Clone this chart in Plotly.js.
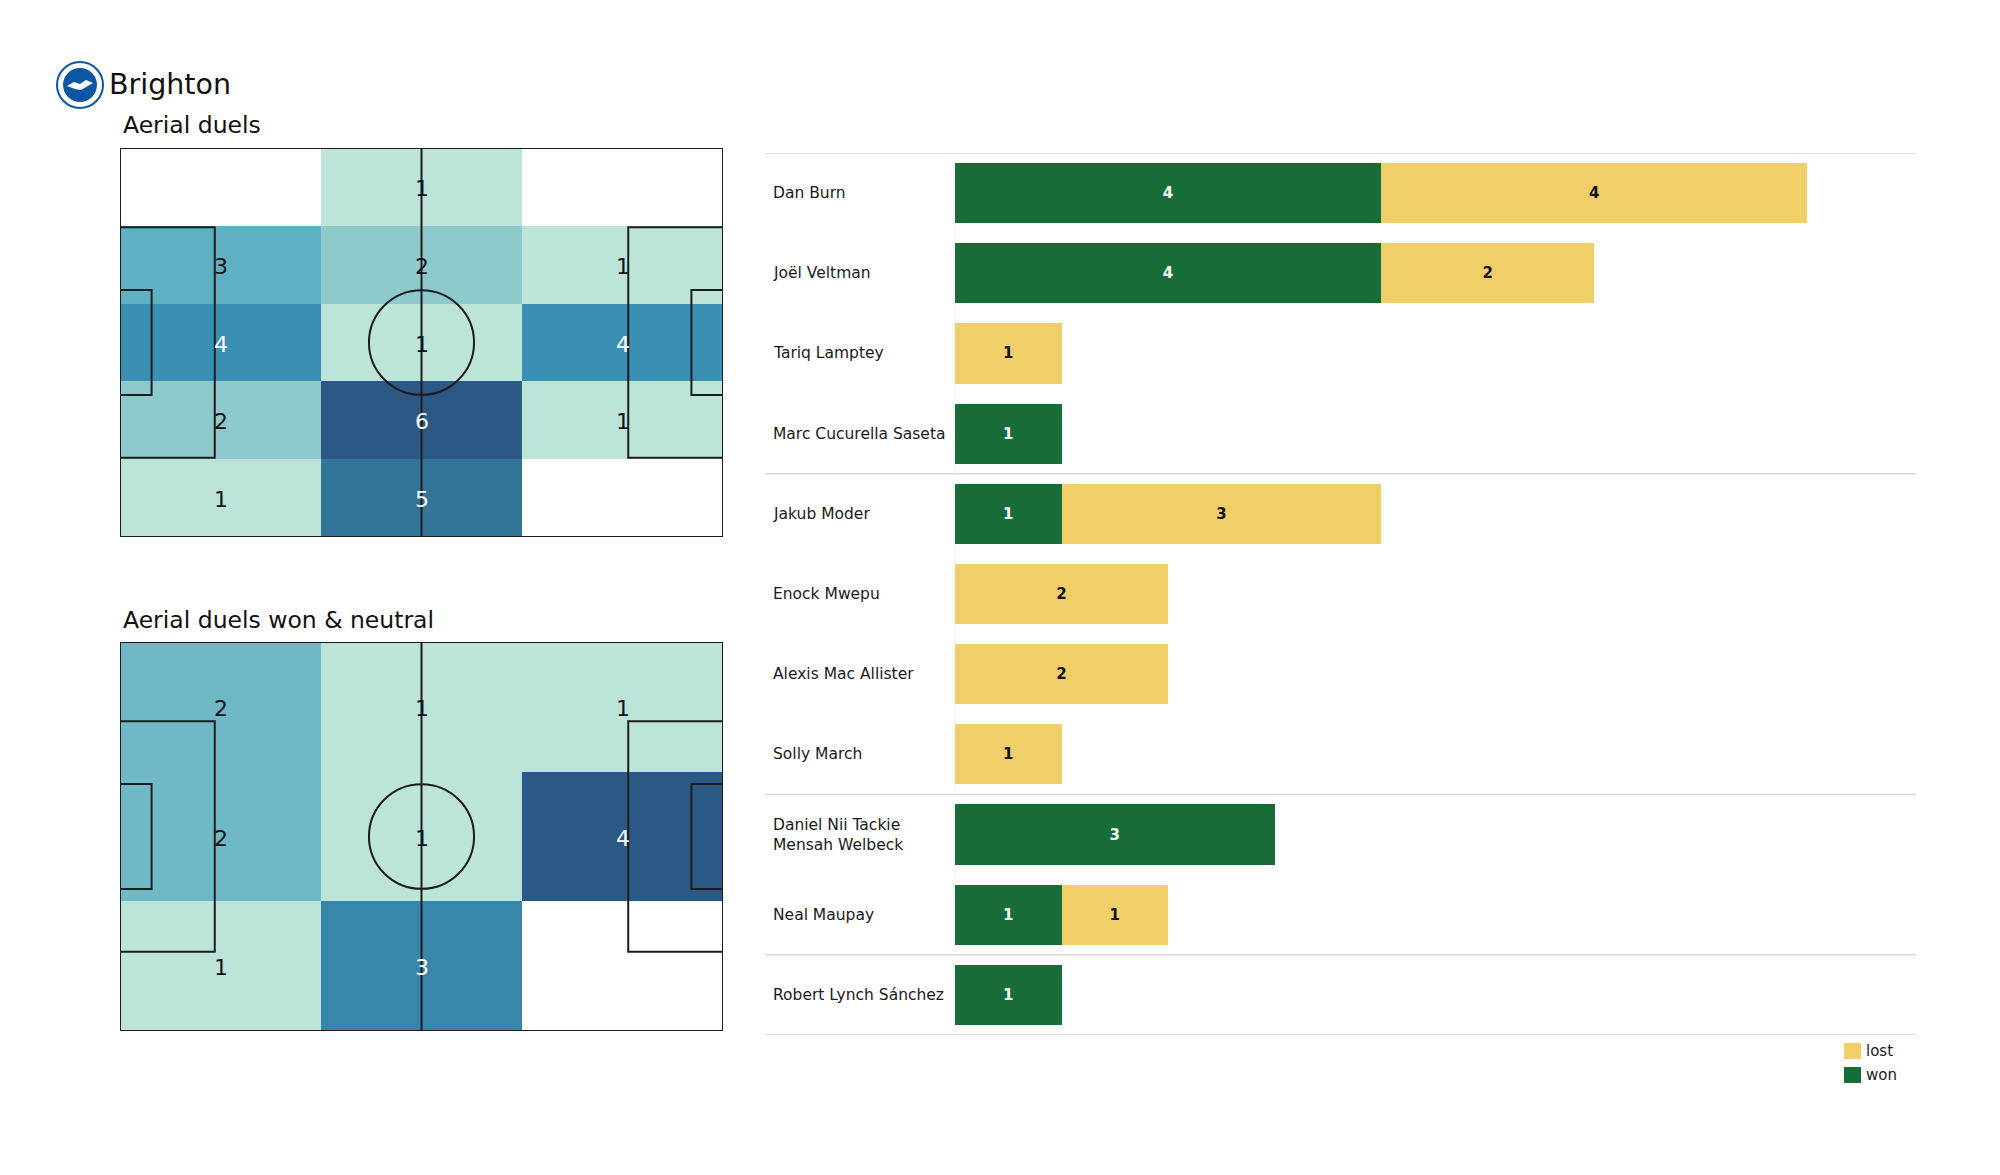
<!DOCTYPE html>
<html>
<head>
<meta charset="utf-8">
<script src="https://cdn.plot.ly/plotly-3.0.1.min.js"></script>
<style>
  html, body { margin: 0; padding: 0; background: #ffffff; }
  #chart { width: 2000px; height: 1175px; }
</style>
</head>
<body>
<div id="chart"></div>
<script>
// ---------------- DATA ----------------
const teamName = "Brighton";
const pitch1Title = "Aerial duels";
const pitch2Title = "Aerial duels won & neutral";

// Aerial duels zone counts (rows top -> bottom, columns left -> right), 0 = empty
const aerialDuels = [
  [0, 1, 0],
  [3, 2, 1],
  [4, 1, 4],
  [2, 6, 1],
  [1, 5, 0]
];
// Aerial duels won & neutral zone counts
const aerialWonNeutral = [
  [2, 1, 1],
  [2, 1, 4],
  [1, 3, 0]
];

const players = [
  "Dan Burn", "Joël Veltman", "Tariq Lamptey", "Marc Cucurella Saseta",
  "Jakub Moder", "Enock Mwepu", "Alexis Mac Allister", "Solly March",
  "Daniel Nii Tackie<br>Mensah Welbeck", "Neal Maupay", "Robert Lynch Sánchez"
];
const won  = [4, 4, 0, 1, 1, 0, 0, 0, 3, 1, 1];
const lost = [4, 2, 1, 0, 3, 2, 2, 1, 0, 1, 0];
// index of last player in each position group (separator lines drawn after them)
const groupEnds = [3, 7, 9];

const legendLabels = ["lost", "won"];

// ---------------- STYLE ----------------
const W = 2000, H = 1175;
const FONT = "DejaVu Sans, Verdana, sans-serif";
const WON_COLOR = "#176c38";
const LOST_COLOR = "#f1cf68";
const PITCH_LINE = "#1c1c1c";
const heatScale = [
  [0.0, "#bde4d9"],
  [0.2, "#8ecacb"],
  [0.4, "#5eb0c2"],
  [0.6, "#3a90b3"],
  [0.8, "#337499"],
  [1.0, "#2c5886"]
];
const PL = 105, PW = 68; // pitch length / width (m)

const px = x => x / W;
const py = y => 1 - y / H;

// ---------------- TRACES ----------------
const traces = [];
const shapes = [];
const annotations = [];

function addPitch(z, xa, ya) {
  const nRows = z.length, nCols = z[0].length;
  const xs = [], ys = [];
  for (let c = 0; c < nCols; c++) xs.push((c + 0.5) * PL / nCols);
  for (let r = 0; r < nRows; r++) ys.push(PW - (r + 0.5) * PW / nRows);
  const zz = z.map(row => row.map(v => v === 0 ? null : v));
  let zmax = 1;
  z.forEach(row => row.forEach(v => { if (v > zmax) zmax = v; }));
  traces.push({
    type: "heatmap", x: xs, y: ys, z: zz, xaxis: xa, yaxis: ya,
    zmin: 1, zmax: zmax, colorscale: heatScale, showscale: false,
    hoverinfo: "skip", xgap: 0, ygap: 0
  });
  // text labels
  for (let r = 0; r < nRows; r++) {
    for (let c = 0; c < nCols; c++) {
      const v = z[r][c];
      if (v === 0) continue;
      const t = (v - 1) / Math.max(1, zmax - 1);
      annotations.push({
        xref: xa, yref: ya, x: xs[c], y: ys[r], text: String(v),
        showarrow: false, xanchor: "center", yanchor: "middle", yshift: -1.5,
        font: { family: FONT, size: 22, color: t >= 0.5 ? "#ffffff" : "#111111" }
      });
    }
  }
  // pitch markings
  const xr = xa, yr = ya;
  const line = { color: PITCH_LINE, width: 2 };
  const rect = (x0, y0, x1, y1) => shapes.push({ type: "rect", xref: xr, yref: yr, x0, y0, x1, y1, line, fillcolor: "rgba(0,0,0,0)", layer: "above" });
  rect(0, 0, PL, PW);
  shapes.push({ type: "line", xref: xr, yref: yr, x0: PL / 2, x1: PL / 2, y0: 0, y1: PW, line, layer: "above" });
  shapes.push({ type: "circle", xref: xr, yref: yr, x0: PL / 2 - 9.15, x1: PL / 2 + 9.15, y0: PW / 2 - 9.15, y1: PW / 2 + 9.15, line, fillcolor: "rgba(0,0,0,0)", layer: "above" });
  rect(0, PW / 2 - 20.16, 16.5, PW / 2 + 20.16);
  rect(PL - 16.5, PW / 2 - 20.16, PL, PW / 2 + 20.16);
  rect(0, PW / 2 - 9.16, 5.5, PW / 2 + 9.16);
  rect(PL - 5.5, PW / 2 - 9.16, PL, PW / 2 + 9.16);
}

addPitch(aerialDuels, "x", "y");
addPitch(aerialWonNeutral, "x2", "y2");

// bars
traces.push({
  type: "bar", orientation: "h", name: legendLabels[1],
  y: players, x: won.map(v => v === 0 ? null : v),
  xaxis: "x3", yaxis: "y3", width: 0.75,
  marker: { color: WON_COLOR, line: { width: 0 } },
  texttemplate: "%{x}", textposition: "inside", insidetextanchor: "middle",
  constraintext: "none", textangle: 0,
  textfont: { family: FONT, size: 15, color: "#ffffff", weight: "bold" },
  hoverinfo: "skip", showlegend: false
});
traces.push({
  type: "bar", orientation: "h", name: legendLabels[0],
  y: players, x: lost.map(v => v === 0 ? null : v),
  xaxis: "x3", yaxis: "y3", width: 0.75,
  marker: { color: LOST_COLOR, line: { width: 0 } },
  texttemplate: "%{x}", textposition: "inside", insidetextanchor: "middle",
  constraintext: "none", textangle: 0,
  textfont: { family: FONT, size: 15, color: "#111111", weight: "bold" },
  hoverinfo: "skip", showlegend: false
});

// player labels
players.forEach(p => {
  annotations.push({
    xref: "paper", yref: "y3", x: px(771), y: p, text: p,
    xanchor: "left", yanchor: "middle", align: "left", showarrow: false,
    font: { family: FONT, size: 15.5, color: "#1a1a1a" }
  });
});

// separators
const sepPositions = [-0.5].concat(groupEnds.map(i => i + 0.5)).concat([players.length - 0.5]);
sepPositions.forEach(s => {
  shapes.push({ type: "line", xref: "paper", yref: "y3", x0: px(765), x1: px(1916), y0: s, y1: s,
    line: { color: "#d6d6d6", width: 1.5 }, layer: "below" });
});
// faint axis line at bar base
shapes.push({ type: "line", xref: "x3", yref: "y3", x0: 0, x1: 0, y0: -0.5, y1: players.length - 0.5,
  line: { color: "#efefef", width: 1 }, layer: "below" });

// legend (manual)
const legendColors = [LOST_COLOR, WON_COLOR];
legendLabels.forEach((lab, i) => {
  const cy = 1051 + i * 24;
  shapes.push({ type: "rect", xref: "paper", yref: "paper",
    x0: px(1844), x1: px(1861), y0: py(cy - 8), y1: py(cy + 8),
    fillcolor: legendColors[i], line: { width: 0 } });
  annotations.push({ xref: "paper", yref: "paper", x: px(1864), y: py(cy), text: lab,
    xanchor: "left", yanchor: "middle", showarrow: false,
    font: { family: FONT, size: 15, color: "#1a1a1a" } });
});

// titles
annotations.push({ xref: "paper", yref: "paper", x: px(107), y: py(84), text: teamName,
  xanchor: "left", yanchor: "middle", showarrow: false, font: { family: FONT, size: 28.5, color: "#111111" } });
annotations.push({ xref: "paper", yref: "paper", x: px(121), y: py(125), text: pitch1Title,
  xanchor: "left", yanchor: "middle", showarrow: false, font: { family: FONT, size: 23.5, color: "#111111" } });
annotations.push({ xref: "paper", yref: "paper", x: px(121), y: py(620), text: pitch2Title,
  xanchor: "left", yanchor: "middle", showarrow: false, font: { family: FONT, size: 23.5, color: "#111111" } });

// logo (simplified crest)
const LX = 80, LY = 85;
shapes.push({ type: "circle", xref: "paper", yref: "paper",
  x0: px(LX - 23), x1: px(LX + 23), y0: py(LY + 23), y1: py(LY - 23),
  fillcolor: "#ffffff", line: { color: "#0b57a4", width: 2 } });
shapes.push({ type: "circle", xref: "paper", yref: "paper",
  x0: px(LX - 17), x1: px(LX + 17), y0: py(LY + 17), y1: py(LY - 17),
  fillcolor: "#0b57a4", line: { width: 0 } });
const gull = [[-13, 1], [-6, -3], [0, -1], [6, -5], [13, -2], [6, 2], [1, 5], [-5, 4]];
shapes.push({ type: "path", xref: "paper", yref: "paper",
  path: "M" + gull.map(p => px(LX + p[0]) + "," + py(LY + p[1])).join("L") + "Z",
  fillcolor: "#ffffff", line: { width: 0 } });

// ---------------- LAYOUT ----------------
const hidden = { visible: false, showgrid: false, zeroline: false, fixedrange: true };
const layout = {
  width: W, height: H,
  margin: { l: 0, r: 0, t: 0, b: 0 },
  paper_bgcolor: "#ffffff", plot_bgcolor: "rgba(0,0,0,0)",
  showlegend: false,
  barmode: "stack", bargap: 0.25,
  font: { family: FONT },
  xaxis:  Object.assign({}, hidden, { domain: [px(120), px(723)], range: [0, PL], anchor: "y" }),
  yaxis:  Object.assign({}, hidden, { domain: [py(537), py(148)], range: [0, PW], anchor: "x" }),
  xaxis2: Object.assign({}, hidden, { domain: [px(120), px(723)], range: [0, PL], anchor: "y2" }),
  yaxis2: Object.assign({}, hidden, { domain: [py(1031), py(642)], range: [0, PW], anchor: "x2" }),
  xaxis3: Object.assign({}, hidden, { domain: [px(955), px(1916)], range: [0, 9.02], anchor: "y3" }),
  yaxis3: Object.assign({}, hidden, { domain: [py(1035), py(153)], type: "category",
    categoryorder: "array", categoryarray: players, range: [players.length - 0.5, -0.5], anchor: "x3" }),
  shapes: shapes,
  annotations: annotations
};

Plotly.newPlot("chart", traces, layout, { staticPlot: true, displayModeBar: false });
</script>
</body>
</html>
